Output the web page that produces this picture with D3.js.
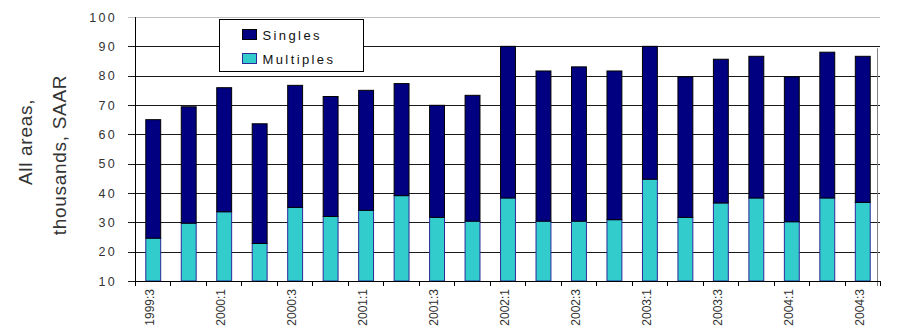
<!DOCTYPE html>
<html>
<head>
<meta charset="utf-8">
<script src="https://cdn.jsdelivr.net/npm/d3@7"></script>
<style>
  body { margin: 0; background: #fff; }
  text { font-family: "Liberation Sans", Arial, sans-serif; }
</style>
</head>
<body>
<svg id="chart"></svg>
<script>
// quarters shown on the x axis
const quarters = ["1999:3", "1999:4",
  "2000:1", "2000:2", "2000:3", "2000:4",
  "2001:1", "2001:2", "2001:3", "2001:4",
  "2002:1", "2002:2", "2002:3", "2002:4",
  "2003:1", "2003:2", "2003:3", "2003:4",
  "2004:1", "2004:2", "2004:3"];

// thousands, SAAR (stacked on top of each other)
const multiples = [24.6, 29.7, 33.6, 22.8, 35.1, 32.0, 34.1, 39.1, 31.7, 30.4,
  38.3, 30.4, 30.4, 30.9, 44.7, 31.7, 36.6, 38.3, 30.2, 38.3, 36.8];
const singles = [40.4, 39.7, 42.3, 40.8, 41.6, 40.9, 40.9, 38.2, 38.2, 42.9,
  51.7, 51.2, 52.6, 50.7, 45.3, 47.9, 49.0, 48.3, 49.4, 49.7, 49.8];

const yTicks = [10, 20, 30, 40, 50, 60, 70, 80, 90, 100];
const seriesNames = ["Singles", "Multiples"];
const colors = { "Singles": "#000080", "Multiples": "#33cccc" };

const width = 918, height = 329;
const margin = { top: 17, right: 38, bottom: 48, left: 135 };
const w = width - margin.left - margin.right;
const h = height - margin.top - margin.bottom;

const svg = d3.select("#chart")
  .attr("width", width)
  .attr("height", height);

const g = svg.append("g")
  .attr("transform", "translate(" + margin.left + "," + margin.top + ")");

const x = d3.scaleBand()
  .domain(quarters)
  .range([0, w])
  .paddingInner(0.58)
  .paddingOuter(0.29);

const y = d3.scaleLinear()
  .domain([10, 100])
  .range([h, 0])
  .clamp(true);

// gridlines
g.selectAll(".grid")
  .data(yTicks)
  .enter().append("line")
  .attr("x1", -7)
  .attr("x2", w)
  .attr("y1", d => Math.round(y(d)) + 0.5)
  .attr("y2", d => Math.round(y(d)) + 0.5)
  .attr("stroke", d => d === 100 ? "#c0c0c0" : "#1a1a1a")
  .attr("stroke-width", 1);

// right edge line
g.append("line")
  .attr("x1", w - 2.5).attr("x2", w - 2.5)
  .attr("y1", y(90) + 2).attr("y2", h + 5)
  .attr("stroke", "#808080");

// stacked bars (axis starts at 10, so bottoms are clamped)
const rows = quarters.map((q, i) => ({ q: q, Multiples: multiples[i], Singles: singles[i] }));
const stack = d3.stack().keys(["Multiples", "Singles"]);
const layers = stack(rows);

g.selectAll(".layer")
  .data(layers)
  .enter().append("g")
  .attr("fill", d => colors[d.key])
  .attr("stroke", d => d.key === "Singles" ? "#000" : "#2a2a9a")
  .selectAll("rect")
  .data(d => d)
  .enter().append("rect")
  .attr("x", d => x(d.data.q) + 0.5)
  .attr("y", d => y(d[1]))
  .attr("width", x.bandwidth())
  .attr("height", d => y(d[0]) - y(d[1]))
  .attr("stroke-width", 1);

// y axis
const yAxis = d3.axisLeft(y).tickValues(yTicks).tickSize(0).tickPadding(18);
const ya = g.append("g").call(yAxis);
ya.select(".domain").remove();
ya.selectAll("text")
  .attr("font-size", 12.5)
  .attr("fill", "#333")
  .attr("letter-spacing", "2.3px");

g.append("line")
  .attr("x1", 0.5).attr("x2", 0.5)
  .attr("y1", 0).attr("y2", h + 5)
  .attr("stroke", "#000");

// x axis
const xAxis = d3.axisBottom(x).tickSize(0).tickFormat("");
const xa = g.append("g").attr("transform", "translate(0," + (Math.round(h) + 0.5) + ")").call(xAxis);
xa.select(".domain").attr("stroke", "#000").attr("d", "M0,0H" + w);

// tick marks between quarters
g.selectAll(".xtick")
  .data(quarters.concat(["end"]))
  .enter().append("line")
  .attr("x1", (d, i) => Math.round(i * x.step()) + 0.5)
  .attr("x2", (d, i) => Math.round(i * x.step()) + 0.5)
  .attr("y1", h)
  .attr("y2", h + 5)
  .attr("stroke", "#000");

g.selectAll(".xlabel")
  .data(quarters.filter((d, i) => i % 2 === 0))
  .enter().append("text")
  .attr("transform", d => "translate(" + (x(d) + x.bandwidth() / 2 + 1.5) + "," + (h + 8) + ") rotate(-90)")
  .attr("text-anchor", "end")
  .attr("font-size", 12)
  .attr("fill", "#333")
  .text(d => d);

// y axis title
const title = svg.append("text")
  .attr("transform", "rotate(-90)")
  .attr("text-anchor", "middle")
  .attr("font-size", 19)
  .attr("letter-spacing", "0.7px")
  .attr("fill", "#333");
title.append("tspan").attr("x", -142).attr("y", 32).text("All areas,");
title.append("tspan").attr("x", -155).attr("y", 66).text("thousands, SAAR");

// legend
const legend = svg.append("g").attr("transform", "translate(219.5,19.5)");
legend.append("rect")
  .attr("width", 144).attr("height", 52)
  .attr("fill", "#fff").attr("stroke", "#000");
seriesNames.forEach((s, i) => {
  legend.append("rect")
    .attr("x", 23).attr("y", 10 + i * 24)
    .attr("width", 14).attr("height", 10)
    .attr("fill", colors[s])
    .attr("stroke", i === 0 ? "#000" : "#2a2a9a");
  legend.append("text")
    .attr("x", 43).attr("y", 20 + i * 24)
    .attr("font-size", 13)
    .attr("letter-spacing", "2.4px")
    .attr("fill", "#111")
    .text(s);
});
</script>
</body>
</html>
